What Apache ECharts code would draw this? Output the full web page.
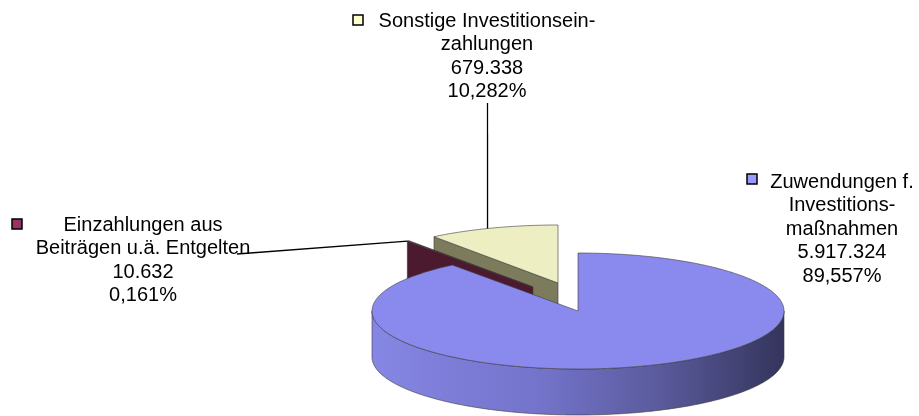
<!DOCTYPE html>
<html>
<head>
<meta charset="utf-8">
<script src="https://cdn.jsdelivr.net/npm/echarts@6.0.0/dist/echarts.min.js"></script>
<style>
  html, body { margin: 0; padding: 0; background: #fff; }
  #main { width: 919px; height: 416px; }
</style>
</head>
<body>
<div id="main"></div>
<script>
// slices, clockwise from 12 o'clock
const categories = [
    'Zuwendungen f.\nInvestitions-\nmaßnahmen',
    'Einzahlungen aus\nBeiträgen u.ä. Entgelten',
    'Sonstige Investitionsein-\nzahlungen'
];
const values = [5917324, 10632, 679338];

const total = values.reduce((a, b) => a + b, 0);
const cum = values.map((v, i) => values.slice(0, i).reduce((a, b) => a + b, 0));

// pie geometry (tilted 3d look)
const RX = 206, RY = 58, DEPTH = 46;
const CENTER = [578, 311];
const FONT = '20px "Liberation Sans", Arial, sans-serif';

const sliceStyle = [
    { top: '#8A8AEE', wall: '#5a5aa8', key: '#9999FF', explode: [0, 0], z: 20 },
    { top: '#5A1F38', wall: '#4B1A2F', key: '#993366', explode: [-45, -24], z: 10 },
    { top: '#EEEEC3', wall: '#7C7C5C', key: '#FFFFCC', explode: [-20, -28], z: 0 }
];
const labelLayout = [
    { cx: 842, top: 170.5, key: [747, 174], leader: null },
    { cx: 143, top: 213.5, key: [12, 219], leader: { from: [237, 254], angle: null } },
    { cx: 487, top: 9.5, key: [353, 15], leader: { from: [487.5, 103], angle: 110 } }
];

function fmtNum(v) {
    return String(v).replace(/\B(?=(\d{3})+(?!\d))/g, '.');
}
function fmtPct(v) {
    return (v / total * 100).toFixed(3).replace('.', ',') + '%';
}

const rad = Math.PI / 180;
const stroke = '#3a3a3a';

function renderItem(params, api) {
    const i = params.dataIndex;
    const v = api.value(0);
    const a0 = 90 - cum[i] / total * 360;
    const a1 = 90 - (cum[i] + v) / total * 360;
    const st = sliceStyle[i];
    const cx = CENTER[0] + st.explode[0], cy = CENTER[1] + st.explode[1];
    const pt = (a, d) => [cx + RX * Math.cos(a * rad), cy - RY * Math.sin(a * rad) + (d || 0)];
    const arc = (from, to, d) => {
        const pts = [];
        const n = Math.max(2, Math.ceil(Math.abs(to - from)));
        for (let k = 0; k <= n; k++) pts.push(pt(from + (to - from) * k / n, d));
        return pts;
    };
    const children = [];
    const wall = a => ({
        type: 'polygon', z2: st.z,
        shape: { points: [[cx, cy], pt(a), pt(a, DEPTH), [cx, cy + DEPTH]] },
        style: { fill: st.wall, stroke: stroke, lineWidth: 0.6 }
    });
    if (Math.cos(a0 * rad) < -1e-6) children.push(wall(a0));
    if (Math.cos(a1 * rad) > 1e-6) children.push(wall(a1));

    // front side of the rim
    for (let k = -2; k <= 1; k++) {
        const lo = Math.max(a1, -180 + 360 * k), hi = Math.min(a0, 360 * k);
        if (hi > lo) {
            children.push({
                type: 'polygon', z2: st.z + 1,
                shape: { points: arc(lo, hi, 0).concat(arc(hi, lo, DEPTH)) },
                style: {
                    fill: new echarts.graphic.LinearGradient(0, 0, 1, 0, [
                        { offset: 0, color: '#8686E4' },
                        { offset: 0.4, color: '#7474CC' },
                        { offset: 0.7, color: '#5a5a9c' },
                        { offset: 1, color: '#34345c' }
                    ]),
                    stroke: stroke, lineWidth: 0.6
                }
            });
        }
    }
    // top face
    children.push({
        type: 'polygon', z2: st.z + 2,
        shape: { points: [[cx, cy]].concat(arc(a0, a1, 0)) },
        style: { fill: st.top, stroke: stroke, lineWidth: 0.6 }
    });

    // label
    const lay = labelLayout[i];
    children.push({
        type: 'text', z2: 100,
        style: {
            text: categories[i] + '\n' + fmtNum(v) + '\n' + fmtPct(v),
            x: lay.cx, y: lay.top, fill: '#000', font: FONT,
            textAlign: 'center', textVerticalAlign: 'top',
            align: 'center', verticalAlign: 'top', lineHeight: 23.5
        }
    });
    children.push({
        type: 'rect', z2: 100,
        shape: { x: lay.key[0], y: lay.key[1], width: 10, height: 10 },
        style: { fill: st.key, stroke: '#000', lineWidth: 1.5 }
    });
    if (lay.leader) {
        const end = pt(lay.leader.angle == null ? a0 : lay.leader.angle);
        children.push({
            type: 'polyline', z2: 99,
            shape: { points: [lay.leader.from, end] },
            style: { stroke: '#000', lineWidth: 1.3, fill: null }
        });
    }
    return { type: 'group', children: children };
}

const chart = echarts.init(document.getElementById('main'));
chart.setOption({
    animation: false,
    backgroundColor: '#fff',
    series: [{
        type: 'custom',
        coordinateSystem: 'none',
        renderItem: renderItem,
        data: values.map(v => [v])
    }]
});
</script>
</body>
</html>
